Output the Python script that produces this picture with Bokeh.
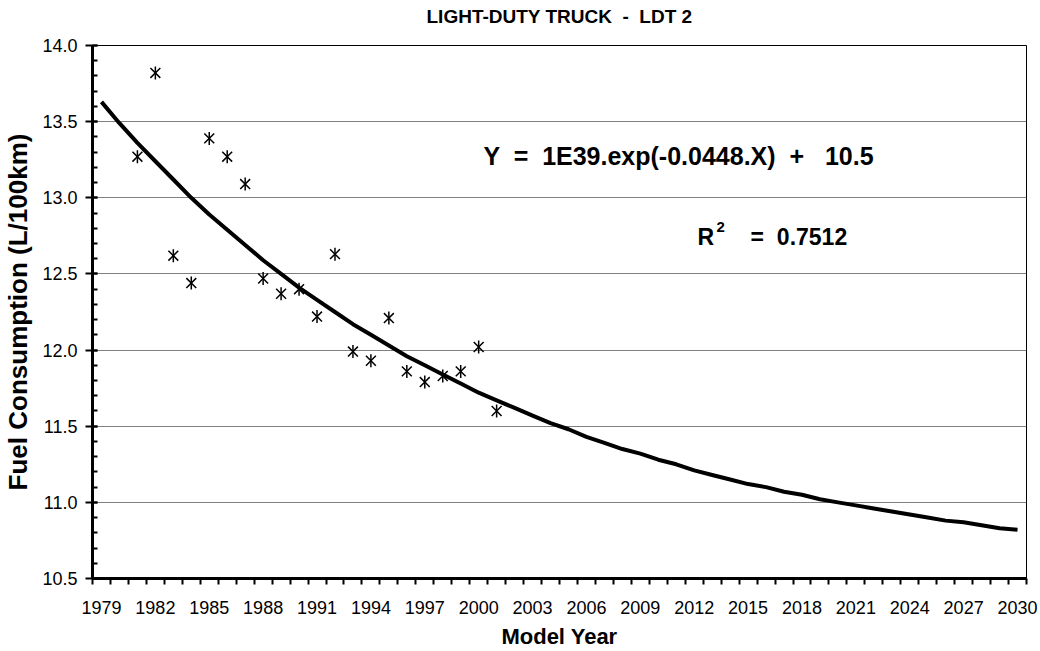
from bokeh.plotting import figure
from bokeh.models import FixedTicker, Range1d, Label, PrintfTickFormatter, Title
from bokeh.embed import file_html
from bokeh.resources import INLINE

# ---- data ----
obs_years = [1981, 1982, 1983, 1984, 1985, 1986, 1987, 1988, 1989, 1990, 1991,
             1992, 1993, 1994, 1995, 1996, 1997, 1998, 1999, 2000, 2001]
obs_fc = [13.27, 13.82, 12.62, 12.44, 13.39, 13.27, 13.09, 12.47, 12.37, 12.40, 12.22,
          12.63, 11.99, 11.93, 12.21, 11.86, 11.79, 11.83, 11.86, 12.02, 11.60]

trend_years = list(range(1979, 2031))
trend_fc = [13.63, 13.49, 13.36, 13.24, 13.12, 13.00, 12.89, 12.79, 12.69, 12.59,
            12.50, 12.41, 12.33, 12.25, 12.17, 12.10, 12.03, 11.96, 11.90, 11.84,
            11.78, 11.72, 11.67, 11.62, 11.57, 11.52, 11.48, 11.43, 11.39, 11.35,
            11.32, 11.28, 11.25, 11.21, 11.18, 11.15, 11.12, 11.10, 11.07, 11.05,
            11.02, 11.00, 10.98, 10.96, 10.94, 10.92, 10.90, 10.88, 10.87, 10.85,
            10.83, 10.82]

x_labels = list(range(1979, 2031, 3))
y_ticks = [10.5, 11.0, 11.5, 12.0, 12.5, 13.0, 13.5, 14.0]

title_text = "LIGHT-DUTY TRUCK \u00a0- \u00a0LDT 2"
eq_text = "Y \u00a0= \u00a01E39.exp(-0.0448.X) \u00a0+ \u00a0\u00a010.5"
r2_rest = "= \u00a00.7512"

FONT = "Liberation Sans"

p = figure(width=1040, height=651, output_backend="svg", toolbar_location=None,
           x_range=Range1d(1978.5, 2030.5), y_range=Range1d(10.5, 14.0),
           min_border_left=92, min_border_right=14, min_border_top=45,
           min_border_bottom=73)

p.background_fill_color = "white"
p.border_fill_color = "white"
p.outline_line_color = "black"
p.outline_line_width = 1

# spacer closest to the frame, then the real title above it
spacer = Title(text=" ", text_font_size="16px", standoff=0)
p.add_layout(spacer, "above")
main_title = Title(text=title_text, align="center", text_font=FONT,
                   text_font_size="19px", text_font_style="bold", text_color="black",
                   standoff=0)
p.add_layout(main_title, "above")

# x axis
xa = p.xaxis[0]
xa.ticker = FixedTicker(ticks=x_labels,
                        minor_ticks=[1978.5 + k for k in range(53)])
xa.formatter = PrintfTickFormatter(format="%d")
xa.major_tick_in = 0
xa.major_tick_out = 0
xa.minor_tick_in = 0
xa.minor_tick_out = 6
xa.minor_tick_line_width = 2
xa.minor_tick_line_color = "black"
xa.axis_line_width = 3
xa.axis_line_color = "black"
xa.major_label_standoff = 16
xa.major_label_text_font = FONT
xa.major_label_text_font_size = "18px"
xa.major_label_text_color = "black"
xa.axis_label = "Model Year"
xa.axis_label_text_font = FONT
xa.axis_label_text_font_size = "22px"
xa.axis_label_text_font_style = "bold"
xa.axis_label_text_color = "black"
xa.axis_label_standoff = 7

# y axis
ya = p.yaxis[0]
ya.ticker = FixedTicker(ticks=y_ticks,
                        minor_ticks=[round(10.5 + 0.1 * k, 2) for k in range(36)])
ya.formatter = PrintfTickFormatter(format="%.1f")
ya.major_tick_in = 5
ya.major_tick_out = 7
ya.major_tick_line_width = 2
ya.major_tick_line_color = "black"
ya.minor_tick_in = 5
ya.minor_tick_out = 0
ya.minor_tick_line_width = 2
ya.minor_tick_line_color = "black"
ya.axis_line_width = 3
ya.axis_line_color = "black"
ya.major_label_standoff = 8
ya.major_label_text_font = FONT
ya.major_label_text_font_size = "18px"
ya.major_label_text_color = "black"
ya.axis_label = "Fuel Consumption (L/100km)"
ya.axis_label_text_font = FONT
ya.axis_label_text_font_size = "26px"
ya.axis_label_text_font_style = "bold"
ya.axis_label_text_color = "black"
ya.axis_label_standoff = 6

p.xgrid.visible = False
p.ygrid.grid_line_color = "#808080"
p.ygrid.grid_line_width = 1

# trend line
p.line(trend_years, trend_fc, line_color="black", line_width=4)

# star markers (x + vertical bar)
p.scatter(obs_years, obs_fc, marker="x", size=14, line_color="black", line_width=1.5)
p.scatter(obs_years, obs_fc, marker="dash", size=13, angle=1.5708,
          line_color="black", line_width=1.5)

eq = Label(x=2000.27, y=13.275, text=eq_text, text_font=FONT, text_font_size="25px",
           text_font_style="bold", text_color="black", text_baseline="alphabetic")
p.add_layout(eq)

r = Label(x=2012.19, y=12.743, text="R", text_font=FONT, text_font_size="23px",
          text_font_style="bold", text_color="black", text_baseline="alphabetic")
p.add_layout(r)
r2 = Label(x=2012.19, y=12.743, x_offset=19, y_offset=10, text="2", text_font=FONT,
           text_font_size="15px", text_font_style="bold", text_color="black",
           text_baseline="alphabetic")
p.add_layout(r2)
r3 = Label(x=2012.19, y=12.743, x_offset=53, text=r2_rest, text_font=FONT,
           text_font_size="23px", text_font_style="bold", text_color="black",
           text_baseline="alphabetic")
p.add_layout(r3)

open("out.html", "w").write(file_html(p, INLINE))
